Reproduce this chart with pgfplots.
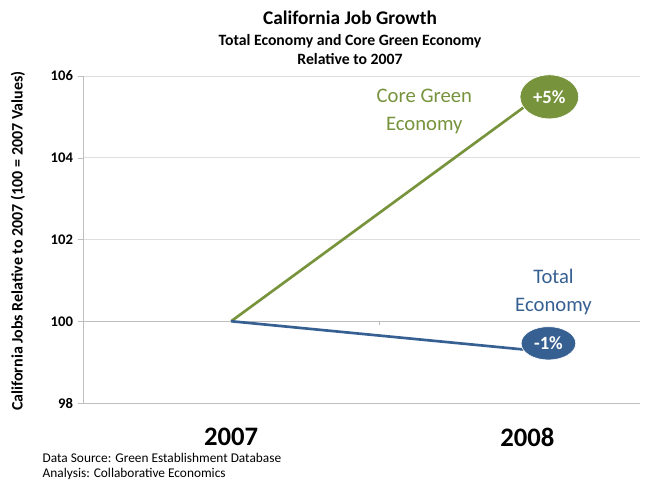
\documentclass[border=0pt]{standalone}
\usepackage{fontspec}
\setmainfont{Carlito}
\usepackage{pgfplots}
\pgfplotsset{compat=1.18}
\usetikzlibrary{shapes.geometric}
\definecolor{cgreen}{RGB}{119,147,60}
\definecolor{cblue}{RGB}{55,96,146}
\definecolor{gridc}{RGB}{222,222,222}
\definecolor{axc}{RGB}{190,190,190}

\begin{document}
\begin{tikzpicture}
\path[use as bounding box] (0pt,0pt) rectangle (489.75pt,360.75pt);

% titles
\node[font=\fontsize{14.5}{16}\selectfont\bfseries] at (262.5pt,347.5pt) {California Job Growth};
\node[font=\fontsize{11.8}{13}\selectfont\bfseries] at (262.5pt,330pt) {Total Economy and Core Green Economy};
\node[font=\fontsize{11.8}{13}\selectfont\bfseries] at (262.5pt,316.5pt) {Relative to 2007};

\begin{axis}[
    at={(62.25pt,58.5pt)}, anchor=south west,
    scale only axis, width=417.75pt, height=245.25pt,
    xmin=-0.5, xmax=1.38, ymin=98, ymax=106,
    ytick={98,100,...,106},
    xtick={0,1}, xticklabels={2007,2008},
    axis lines*=left,
    axis line style={axc},
    ymajorgrids, grid style={gridc},
    tick align=outside, major tick length=4pt,
    y tick style={axc}, x tick style={draw=none},
    /pgf/number format/assume math mode=true,
    y tick label style={font=\fontsize{11}{12}\selectfont\bfseries},
    x tick label style={font=\fontsize{20}{22}\selectfont\bfseries, yshift=-11.5pt},
    ylabel={California Jobs Relative to 2007 (100 = 2007 Values)},
    ylabel style={font=\fontsize{12}{13}\selectfont\bfseries,
        at={(axis description cs:-0.117,0.495)}, anchor=center},
    clip=false,
]
\draw[axc] (axis cs:-0.5,100) -- (axis cs:1.38,100);
\draw[axc] (axis cs:0.5,100) -- ([yshift=-3pt]axis cs:0.5,100);

\addplot[cgreen, line width=2pt] coordinates {(0,100) (1,105.3)};
\addplot[cblue, line width=2pt] coordinates {(0,100) (1,99.3)};

\node[ellipse, fill=cgreen, draw=white, line width=0.5pt, minimum width=44pt, minimum height=33pt, inner sep=0pt,
      text=white, font=\fontsize{14}{15}\selectfont\bfseries] at (axis cs:1.074,105.49) {+5\%};
\node[ellipse, fill=cblue, draw=white, line width=0.5pt, minimum width=41pt, minimum height=25pt, inner sep=0pt,
      text=white, font=\fontsize{14}{15}\selectfont\bfseries] at (axis cs:1.071,99.46) {-1\%};

\node[text=cgreen, align=center, font=\fontsize{15.5}{21}\selectfont] at (axis cs:0.652,105.13) {Core Green\\Economy};
\node[text=cblue, align=center, font=\fontsize{15.5}{21}\selectfont] at (axis cs:1.088,100.71) {Total\\Economy};
\end{axis}

\node[anchor=west, font=\fontsize{10}{12}\selectfont] at (28.5pt,17.5pt) {Data Source: Green Establishment Database};
\node[anchor=west, font=\fontsize{10}{12}\selectfont] at (28.5pt,5.5pt) {Analysis: Collaborative Economics};
\end{tikzpicture}
\end{document}
